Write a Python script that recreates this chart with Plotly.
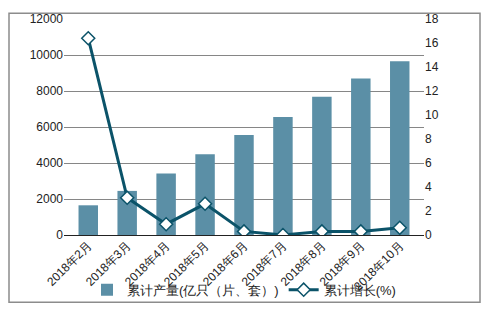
import plotly.graph_objects as go

categories = ["2018年2月", "2018年3月", "2018年4月", "2018年5月", "2018年6月",
              "2018年7月", "2018年8月", "2018年9月", "2018年10月"]
output_vals = [1650, 2450, 3410, 4480, 5550, 6560, 7680, 8690, 9650]
growth_vals = [16.4, 3.1, 0.9, 2.6, 0.3, 0.0, 0.3, 0.3, 0.6]

bar_name = "累计产量(亿只（片、套）)"
line_name = "累计增长(%)"

W, H = 492, 317
L, R, T, B = 64, 424, 13, 238

fig = go.Figure()
fig.add_trace(go.Bar(x=categories, y=output_vals, name=bar_name,
                     marker=dict(color="#5B8FA6", line=dict(width=0)), width=0.5))
fig.add_trace(go.Scatter(x=categories, y=growth_vals, name=line_name, yaxis="y2",
                         mode="lines+markers",
                         line=dict(color="#0B5369", width=3),
                         marker=dict(symbol="diamond", size=10, color="white",
                                     line=dict(color="#0B5369", width=1.5))))

pw, ph = R - L, B - T
fig.update_layout(
    width=W, height=H,
    margin=dict(l=L, r=W - R, t=T, b=H - B),
    paper_bgcolor="white", plot_bgcolor="white",
    font=dict(family="Liberation Sans, Arial, sans-serif", size=12, color="#222"),
    bargap=0.5,
    xaxis=dict(type="category", tickangle=-45, showgrid=False, showline=False,
               ticks="", tickfont=dict(size=12, color="#222")),
    yaxis=dict(range=[0, 12000], dtick=2000, tickformat="d", showgrid=True,
               gridcolor="#868686", gridwidth=1, zeroline=True,
               zerolinecolor="#222", zerolinewidth=1,
               showline=False, ticks="", tickfont=dict(size=12, color="#222")),
    yaxis2=dict(range=[0, 18], dtick=2, overlaying="y", side="right",
                showgrid=False, zeroline=False, showline=False, ticks="",
                tickfont=dict(size=12, color="#222")),
    legend=dict(orientation="h", x=0.5, xanchor="center",
                y=(B - 295) / ph, yanchor="middle",
                font=dict(size=13, color="#222"),
                bgcolor="rgba(0,0,0,0)"),
    showlegend=True,
)
fig.add_shape(type="rect", xref="paper", yref="paper",
              x0=(9 - L) / pw, x1=(480 - L) / pw,
              y0=(B - 308) / ph, y1=(B - 7) / ph,
              line=dict(color="#8C8C8C", width=1.5), fillcolor="rgba(0,0,0,0)",
              layer="below")
fig.write_html("out.html")
